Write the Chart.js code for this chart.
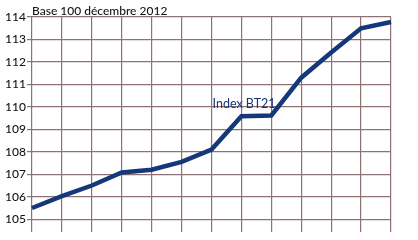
<!DOCTYPE html>
<html lang="fr">
<head>
<meta charset="utf-8">
<script src="https://cdn.jsdelivr.net/npm/chart.js@4.4.0/dist/chart.umd.min.js"></script>
<style>
  html, body { margin: 0; padding: 0; background: #fff; }
  #wrap { position: relative; width: 418px; height: 240px; }
</style>
</head>
<body>
<div id="wrap"><canvas id="bt21" width="418" height="240"></canvas></div>
<script>
// périodes (non affichées sur l'axe)
var periodes  = ["1", "2", "3", "4", "5", "6", "7", "8", "9", "10", "11", "12", "13"];
var indexBT21 = [105.5, 106.03, 106.5, 107.08, 107.2, 107.55, 108.1, 109.58, 109.62, 111.3, 112.42, 113.5, 113.78];
var ticksY    = [105, 106, 107, 108, 109, 110, 111, 112, 113, 114];
var titre      = "Base 100 décembre 2012";
var serieLabel = "Index BT21";

var NAVY = "#15387a";
var GRID = "#8f7073";
var FONT = "Lato, 'Open Sans', sans-serif";

// textes dessinés sur le graphique
var textes = {
    id: "textes",
    afterDraw: function (chart) {
        var ctx = chart.ctx, a = chart.chartArea;
        var xs = chart.scales.x, ys = chart.scales.y;
        ctx.save();
        ctx.textAlign = "left";
        ctx.textBaseline = "alphabetic";
        ctx.fillStyle = "#151515";
        ctx.font = "500 12px " + FONT;
        ctx.fillText(titre, a.left, a.top - 2);
        ctx.fillStyle = NAVY;
        ctx.font = "12.5px " + FONT;
        ctx.fillText(serieLabel, xs.getPixelForValue(6) + 1, ys.getPixelForValue(109.95));
        ctx.restore();
    }
};

new Chart(document.getElementById("bt21").getContext("2d"), {
    type: "line",
    data: {
        labels: periodes,
        datasets: [{
            label: serieLabel,
            data: indexBT21,
            borderColor: NAVY,
            borderWidth: 4.5,
            pointRadius: 0,
            tension: 0,
            fill: false
        }]
    },
    options: {
        responsive: false,
        animation: false,
        devicePixelRatio: 1,
        layout: { padding: { top: 17, right: 27, left: 0, bottom: 0 } },
        plugins: {
            legend: { display: false },
            tooltip: { enabled: false }
        },
        scales: {
            x: {
                offset: false,
                ticks: { display: false },
                grid: { color: GRID, lineWidth: 1.2, drawTicks: false },
                border: { display: false },
                afterFit: function (s) { s.height = 0; }
            },
            y: {
                min: 104.44,
                max: 114,
                afterBuildTicks: function (s) {
                    s.ticks = ticksY.map(function (v) { return { value: v }; });
                },
                ticks: {
                    padding: 1,
                    color: "#151515",
                    font: { family: FONT, size: 12, weight: "500" }
                },
                grid: { color: GRID, lineWidth: 1.2, tickLength: 5 },
                border: { display: false },
                afterFit: function (s) { s.width = 32; }
            }
        }
    },
    plugins: [textes]
});
</script>
</body>
</html>
